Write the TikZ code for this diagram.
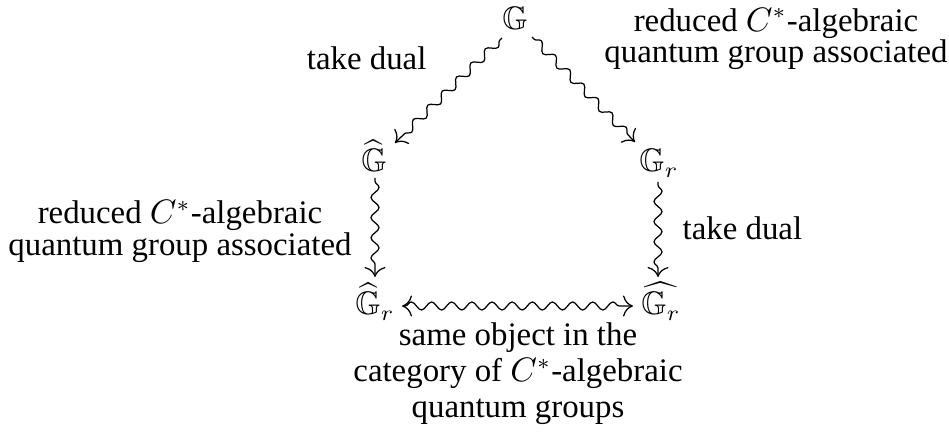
\documentclass[tikz,border=0pt]{standalone}
\usepackage{amssymb}
\usepackage{fontspec}
\setmainfont{Liberation Serif}
\usetikzlibrary{decorations.pathmorphing,arrows.meta}
\begin{document}
\begin{tikzpicture}[x=0.3226pt,y=-0.3226pt,
  mathnode/.style={inner sep=0pt, outer sep=0pt, anchor=base, font=\fontsize{10.5}{12}\selectfont},
  lbl/.style={inner sep=0pt, align=center, font=\fontsize{10.6}{10.2}\selectfont},
  sq/.style={decorate, decoration={snake, amplitude=1.3pt, segment length=6.5pt, pre length=1pt, post length=2.5pt}, line width=0.4pt},
  tipend/.style={-{Computer Modern Rightarrow[scale=1.3]}},
  tipboth/.style={{Computer Modern Rightarrow[scale=1.3]}-{Computer Modern Rightarrow[scale=1.3]}}
]
\useasboundingbox (0,0) rectangle (949,432);
% objects
\node[mathnode] (G)   at (515,30)  {$\mathbb{G}$};
\node[mathnode] (hG)  at (374,172) {$\widehat{\mathbb{G}}$};
\node[mathnode] (Gr)  at (659,172) {$\mathbb{G}_r$};
\node[mathnode] (hGr) at (375,315) {$\widehat{\mathbb{G}}_r$};
\node[mathnode] (wGr) at (661,315) {$\widehat{\mathbb{G}_r}$};
% labels
\node[lbl, anchor=base east] (tdl) at (427,70) {take dual};
\node[lbl, anchor=center] (trl) at (776,39) {reduced $C^*$-algebraic\\quantum group associated};
\node[lbl, anchor=center] (lfl) at (180,231.5) {reduced $C^*$-algebraic\\quantum group associated};
\node[lbl, anchor=base west] (tdr) at (682,240) {take dual};
\node[lbl, anchor=center, font=\fontsize{10.6}{11.6}\selectfont] (bot) at (518,373.5) {same object in the\\category of $C^*$-algebraic\\quantum groups};
% connectors
\draw[sq, tipend] ([shift={(-13,8)}]G.base) -- ([shift={(21,-29)}]hG.base);
\draw[sq, tipend] ([shift={(17,7)}]G.base) -- ([shift={(-24,-30)}]Gr.base);
\draw[sq, tipend] ([shift={(1,6)}]hG.base) -- ([shift={(0,-38)}]hGr.base);
\draw[sq, tipend] ([shift={(-1,10)}]Gr.base) -- ([shift={(-3,-38)}]wGr.base);
\draw[sq, tipboth] ([shift={(27,-9)}]hGr.base) -- ([shift={(-28,-9)}]wGr.base);
\end{tikzpicture}
\end{document}
